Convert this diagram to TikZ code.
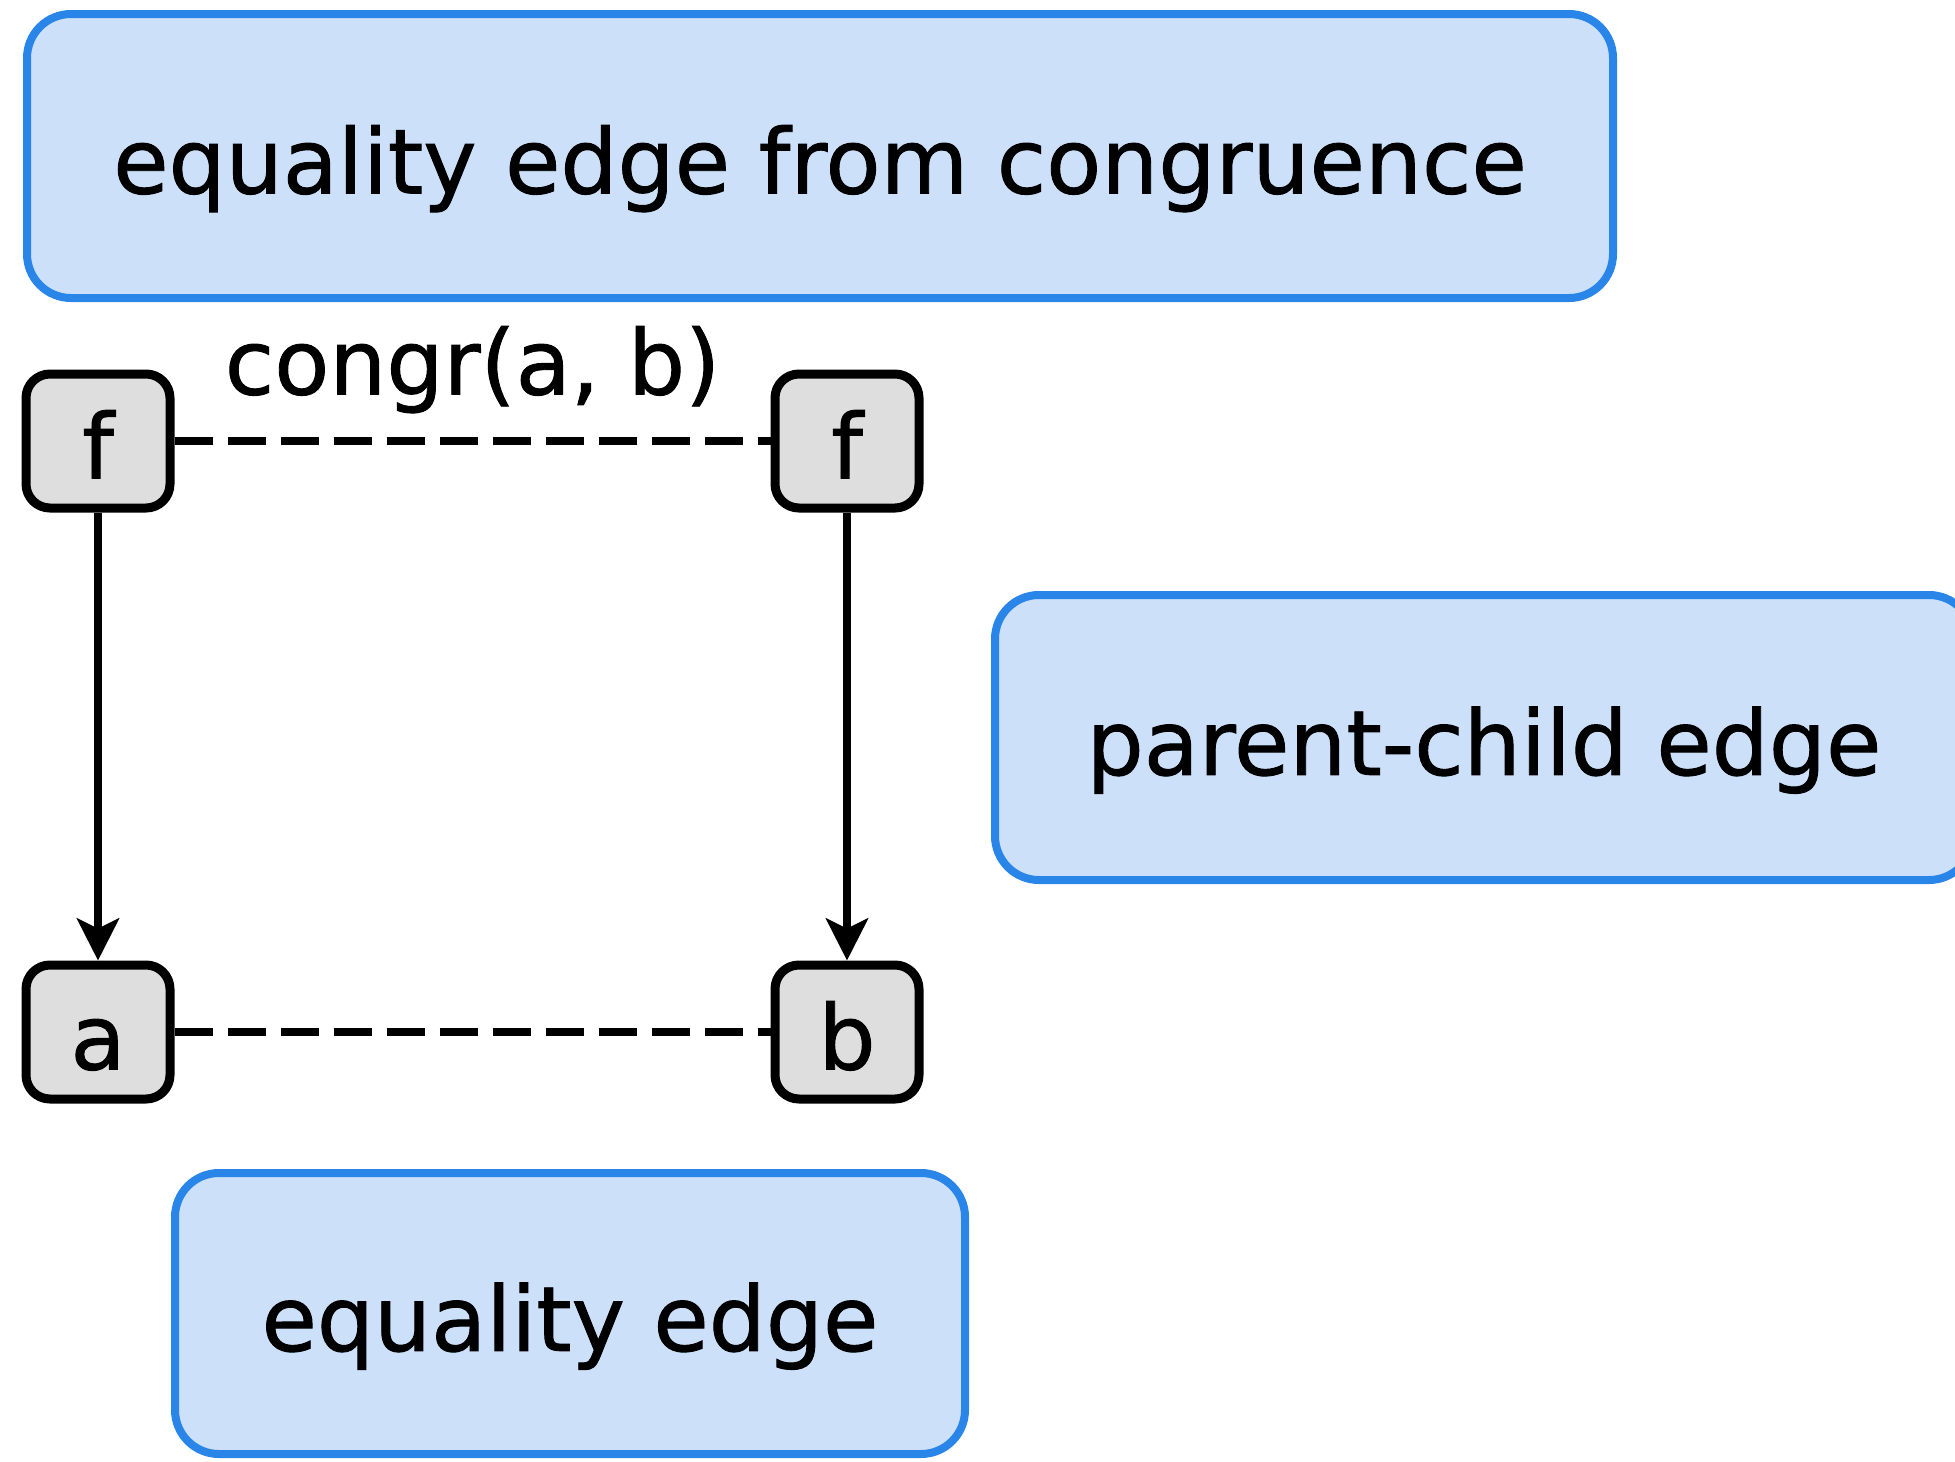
\documentclass[tikz,border=0pt]{standalone}
\usepackage{fontspec}
\setmainfont[FakeBold=1]{DejaVu Sans}
\usetikzlibrary{arrows.meta}
\definecolor{boxfill}{RGB}{204,224,249}
\definecolor{boxline}{RGB}{42,133,232}
\definecolor{termfill}{RGB}{222,222,222}
\begin{document}
\begin{tikzpicture}[x=0.5pt,y=-0.5pt,
  txt/.style={font=\fontsize{45pt}{54pt}\selectfont, text height=44pt, text depth=6.6pt},
  legend/.style={txt, draw=boxline, fill=boxfill, line width=4pt, rounded corners=22pt, inner sep=0pt},
  term/.style={txt, draw=black, fill=termfill, line width=4.5pt, rounded corners=12pt, minimum width=72pt, minimum height=67pt, inner sep=0pt},
  eqedge/.style={line width=3.8pt, dash pattern=on 19pt off 7.5pt},
  pcedge/.style={line width=3.8pt, -{Stealth[length=21pt,width=21pt,inset=5pt]}},
  lbl/.style={txt, inner sep=0pt}]
\clip (0,0) rectangle (1955,1462);
\node[legend, minimum width=793pt, minimum height=142pt] (top) at (820,156) {equality edge from congruence};
\node[legend, minimum width=489pt, minimum height=142.5pt] (pc) at (1484,737.5) {parent-child edge};
\node[legend, minimum width=395pt, minimum height=140.5pt] (eq) at (570,1313.5) {equality edge};
\node[term] (f1) at (98,441) {f};
\node[term] (f2) at (847,441) {f};
\node[term] (a) at (98,1032) {a};
\node[term] (b) at (847,1032) {b};
\draw[eqedge] (f1) -- node[lbl, midway, yshift=42pt] (cl) {congr(a, b)} (f2);
\draw[eqedge] (a) -- (b);
\draw[pcedge] (f1) -- (a);
\draw[pcedge] (f2) -- (b);
\end{tikzpicture}
\end{document}
